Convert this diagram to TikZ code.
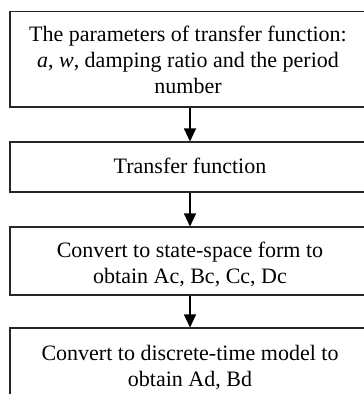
\documentclass[tikz,border=0pt]{standalone}
\usepackage{fontspec}
\setmainfont{Liberation Serif}
\usetikzlibrary{arrows.meta}
\begin{document}
\begin{tikzpicture}[x=1pt,y=-1pt,
  flowbox/.style={draw=black!85, line width=1.1pt, minimum width=360pt, inner sep=0pt},
  flowtext/.style={inner sep=0pt, align=center, font=\fontsize{22pt}{26pt}\selectfont},
  flowarrow/.style={draw=black, line width=1.1pt, -{Triangle[width=12pt,length=13pt]}}]
\useasboundingbox (0,0) rectangle (364,394);
\fill[white] (0,0) rectangle (364,394);
\clip (0,0) rectangle (364,394);
\node[flowbox, minimum height=95.5pt] (b1) at (190,59.25) {};
\node[flowbox, minimum height=50pt] (b2) at (190,167) {};
\node[flowbox, minimum height=68pt] (b3) at (190,261) {};
\node[flowbox, minimum height=76pt] (b4) at (190,366) {};
\node[flowtext] (t1) at (188,60)
  {The parameters of transfer function:\\ \textit{a}, \textit{w}, damping ratio and the period\\ number};
\node[flowtext] (t2) at (190,166) {Transfer function};
\node[flowtext] (t3) at (190,264) {Convert to state-space form to\\ obtain Ac, Bc, Cc, Dc};
\node[flowtext] (t4) at (190,367.5) {Convert to discrete-time model to\\ obtain Ad, Bd};
\draw[flowarrow] (b1) -- (b2);
\draw[flowarrow] (b2) -- (b3);
\draw[flowarrow] (b3) -- (b4);
\end{tikzpicture}
\end{document}
